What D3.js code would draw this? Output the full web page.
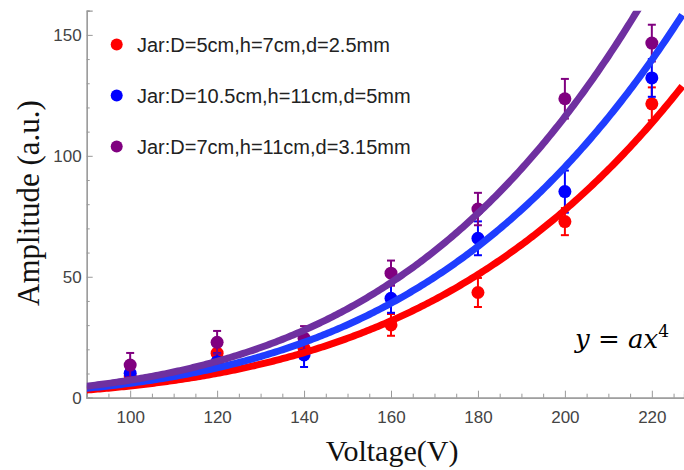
<!DOCTYPE html>
<html>
<head>
<meta charset="utf-8">
<script src="https://cdn.jsdelivr.net/npm/d3@7"></script>
<style>
  body { margin: 0; background: #fff; }
  svg { display: block; }
</style>
</head>
<body>
<div id="chart"></div>
<script>
var svgWidth = 684;
var svgHeight = 470;

// data
var voltages = [100, 120, 140, 160, 180, 200, 220];
var seriesNames = ["Jar:D=5cm,h=7cm,d=2.5mm", "Jar:D=10.5cm,h=11cm,d=5mm", "Jar:D=7cm,h=11cm,d=3.15mm"];
var redAmp = [9, 18.4, 20.4, 30.1, 43.5, 72.8, 121.5];
var redErr = [3, 3, 4, 4.5, 6, 5.6, 6.8];
var blueAmp = [10.1, 14.9, 17.7, 41.1, 65.9, 85.2, 132.2];
var blueErr = [3, 3.5, 5, 6, 7, 8.7, 7.8];
var purpleAmp = [13.5, 22.9, 24.6, 51.5, 78.0, 123.6, 146.6];
var purpleErr = [5, 4.7, 5, 5.2, 6.7, 8.2, 7.6];
// fit y = a x^4
var fitA = [4.85e-8, 5.96e-8, 7.26e-8];
var xTicks = [100, 120, 140, 160, 180, 200, 220];
var yTicks = [0, 50, 100, 150];

var pointColors = ["#ff0000", "#0000ff", "#800080"];
var lineColors = ["#ff0000", "#1f3dff", "#6f30a0"];

var series = [
  {name: seriesNames[0], amp: redAmp, err: redErr, a: fitA[0]},
  {name: seriesNames[1], amp: blueAmp, err: blueErr, a: fitA[1]},
  {name: seriesNames[2], amp: purpleAmp, err: purpleErr, a: fitA[2]}
];

var x = d3.scaleLinear().domain([90, 227.4]).range([86.7, 684]);
var y = d3.scaleLinear().domain([0, 160]).range([397.7, 10.7]);

var svg = d3.select("#chart")
  .append("svg")
  .attr("width", svgWidth)
  .attr("height", svgHeight);

svg.append("clipPath").attr("id", "plotclip")
  .append("rect")
  .attr("x", x(90)).attr("y", y(160))
  .attr("width", x(227.4) - x(90)).attr("height", y(0) - y(160));

// axes (ticks point inward, Mathematica style)
var axisColor = "#999";
var bottomAxis = d3.axisBottom(x).tickValues(xTicks).tickSize(-7).tickPadding(13).tickFormat(d3.format("d"));
var bottomMinor = d3.axisBottom(x).tickValues(d3.range(90, 228, 5).filter(v => v % 20 !== 0)).tickSize(-4).tickFormat("");
var leftAxis = d3.axisLeft(y).tickValues(yTicks).tickSize(-6).tickPadding(5);
var leftMinor = d3.axisLeft(y).tickValues(d3.range(10, 161, 10).filter(v => v % 50 !== 0)).tickSize(-3).tickFormat("");

var gx = svg.append("g").attr("transform", `translate(0, ${y(0)})`).call(bottomAxis);
var gxm = svg.append("g").attr("transform", `translate(0, ${y(0)})`).call(bottomMinor);
var gy = svg.append("g").attr("transform", `translate(${x(90)}, 0)`).call(leftAxis);
var gym = svg.append("g").attr("transform", `translate(${x(90)}, 0)`).call(leftMinor);

[gx, gxm, gy, gym].forEach(function(g) {
  g.select(".domain").attr("stroke", axisColor).attr("stroke-width", 1.2);
  g.selectAll(".tick line").attr("stroke", axisColor);
  g.selectAll(".tick text")
    .attr("fill", "#444")
    .style("font-family", "Liberation Sans, Arial, sans-serif")
    .style("font-size", "17px");
});
gx.selectAll(".tick text").attr("dy", "0.71em");

// axis titles
svg.append("text")
  .attr("x", 392).attr("y", 461)
  .attr("text-anchor", "middle")
  .style("font-family", "Liberation Serif, Times New Roman, serif")
  .style("font-size", "30px")
  .attr("fill", "#111")
  .text("Voltage(V)");

svg.append("text")
  .attr("transform", "translate(39, 203) rotate(-90)")
  .attr("text-anchor", "middle")
  .style("font-family", "Liberation Serif, Times New Roman, serif")
  .style("font-size", "31px")
  .attr("fill", "#111")
  .text("Amplitude (a.u.)");

var plot = svg.append("g");

// error bars + points
series.forEach(function(s, i) {
  var g = plot.append("g");
  voltages.forEach(function(v, j) {
    var cx = x(v);
    var top = y(s.amp[j] + s.err[j]);
    var bot = y(s.amp[j] - s.err[j]);
    g.append("line").attr("x1", cx).attr("x2", cx).attr("y1", top).attr("y2", bot)
      .attr("stroke", pointColors[i]).attr("stroke-width", 2);
    g.append("line").attr("x1", cx - 4).attr("x2", cx + 4).attr("y1", top).attr("y2", top)
      .attr("stroke", pointColors[i]).attr("stroke-width", 2);
    g.append("line").attr("x1", cx - 4).attr("x2", cx + 4).attr("y1", bot).attr("y2", bot)
      .attr("stroke", pointColors[i]).attr("stroke-width", 2);
  });
  g.selectAll("circle")
    .data(voltages)
    .enter()
    .append("circle")
    .attr("cx", d => x(d))
    .attr("cy", (d, j) => y(s.amp[j]))
    .attr("r", 6.5)
    .attr("fill", pointColors[i]);
});

// fit curves
var line = d3.line().x(d => x(d[0])).y(d => y(d[1]));
series.forEach(function(s, i) {
  var pts = d3.range(90, 227.5, 0.5).map(v => [v, s.a * Math.pow(v, 4)]);
  plot.append("path")
    .datum(pts)
    .attr("clip-path", "url(#plotclip)")
    .attr("d", line)
    .attr("fill", "none")
    .attr("stroke", lineColors[i])
    .attr("stroke-width", 7);
});

// legend
var legend = svg.append("g");
seriesNames.forEach(function(name, i) {
  var ly = 44.5 + i * 51;
  legend.append("circle").attr("cx", 116.7).attr("cy", ly).attr("r", 6).attr("fill", pointColors[i]);
  legend.append("text")
    .attr("x", 137).attr("y", ly)
    .attr("dy", "0.36em")
    .style("font-family", "Liberation Sans, Arial, sans-serif")
    .style("font-size", "20px")
    .attr("fill", "#222")
    .text(name);
});

// equation
var eq = svg.append("text")
  .attr("x", 575).attr("y", 348)
  .style("font-family", "DejaVu Serif, serif")
  .style("font-size", "26px")
  .attr("fill", "#000");
eq.append("tspan").style("font-style", "italic").text("y");
eq.append("tspan").text(" = ");
eq.append("tspan").style("font-style", "italic").text("ax");
eq.append("tspan").attr("dy", -11).style("font-size", "17px").text("4");
</script>
</body>
</html>
